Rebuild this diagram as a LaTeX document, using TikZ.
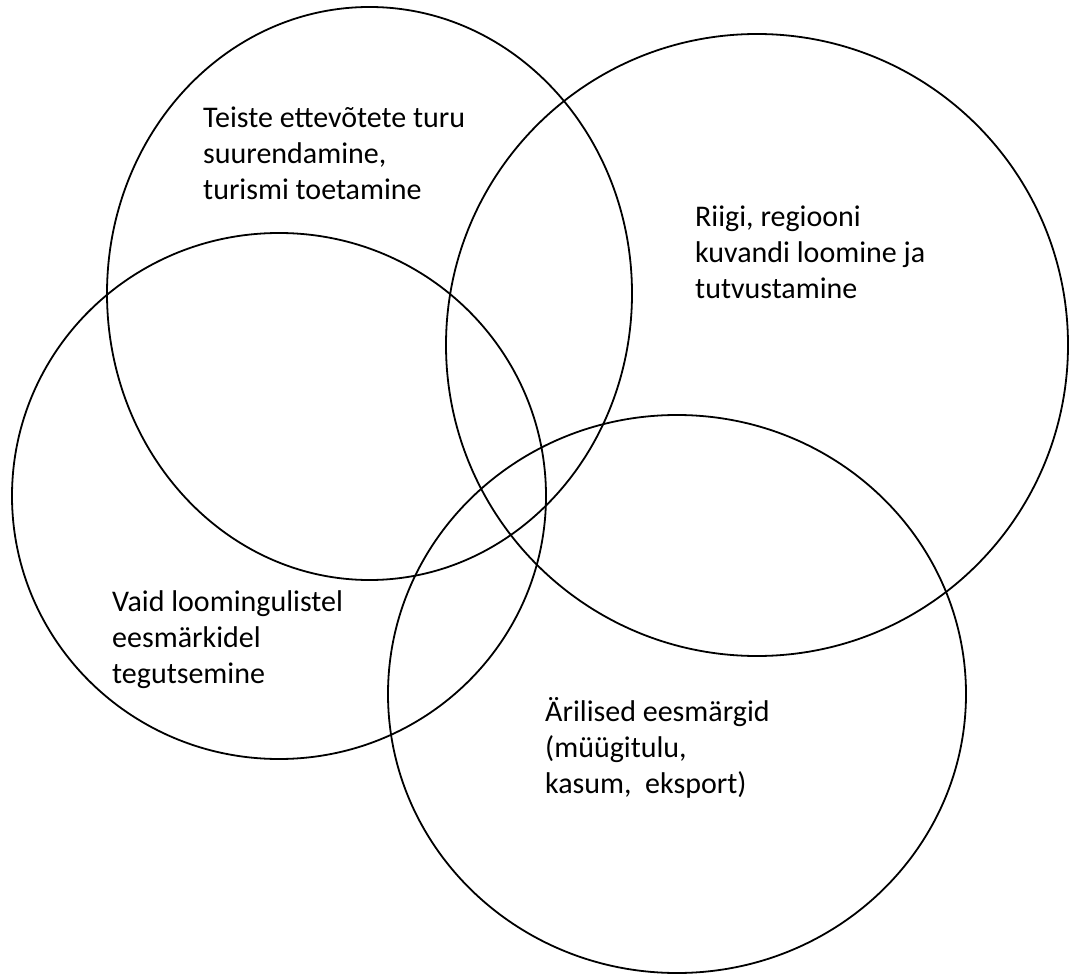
\documentclass[tikz,border=0pt]{standalone}
\usepackage{fontspec}
\setmainfont{Carlito}
\begin{document}
\begin{tikzpicture}[x=1pt,y=-1pt,
  ring/.style={draw=black,line width=1.8pt},
  label/.style={anchor=base west,align=left,inner sep=0pt,font=\fontsize{30}{36}\selectfont}]
\useasboundingbox (0,0) rectangle (1071,976);
\draw[ring] (369.5,293.5) ellipse [x radius=262.5pt, y radius=286.5pt];
\draw[ring] (757,345) ellipse [x radius=311pt, y radius=311pt];
\draw[ring] (279,496) ellipse [x radius=267pt, y radius=263pt];
\draw[ring] (677,694) ellipse [x radius=289pt, y radius=279pt];
% anchor = baseline of the last line
\node[label] (t1) at (203,200) {Teiste ettevõtete turu\\suurendamine,\\turismi toetamine};
\node[label] (t2) at (695,299) {Riigi, regiooni\\kuvandi loomine ja\\tutvustamine};
\node[label] (t3) at (112,683) {Vaid loomingulistel\\eesmärkidel\\tegutsemine};
\node[label] (t4) at (545,793) {Ärilised eesmärgid\\(müügitulu,\\kasum,~~eksport)};
\end{tikzpicture}
\end{document}
